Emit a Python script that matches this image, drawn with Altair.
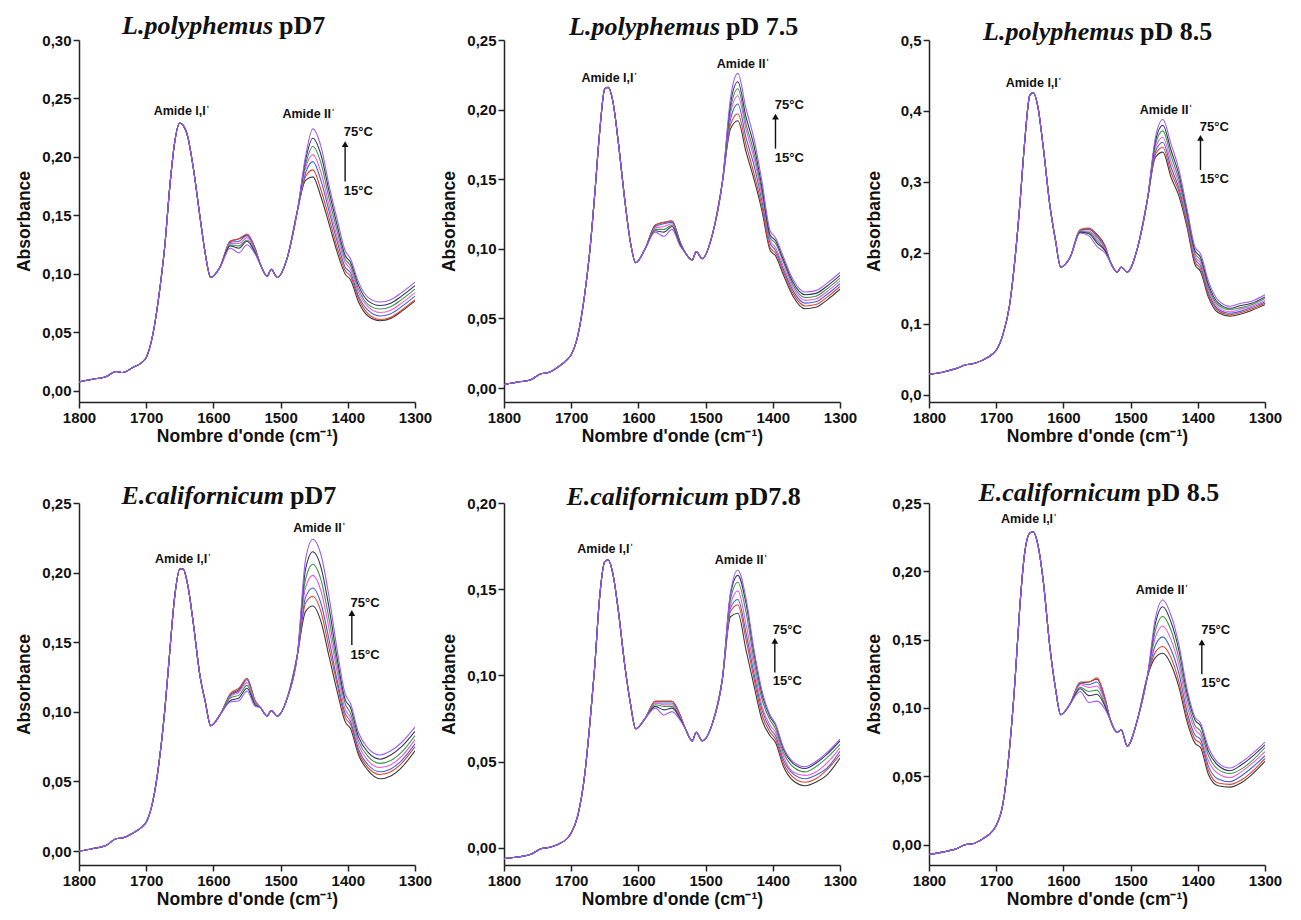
import altair as alt
import pandas as pd

# ---------------- data ----------------
TEMPS = [15, 25, 35, 45, 55, 65, 75]
TEMP_LABELS = ["15°C", "25°C", "35°C", "45°C", "55°C", "65°C", "75°C"]
TEMP_COLORS = ["#3a3a3a", "#e8412c", "#3d63e0", "#f05ad8", "#3c9a44", "#34345e", "#9d5cf5"]

# wavenumber grids (cm-1): segments where the curves coincide / differ
CX1 = [1800, 1780, 1760, 1745, 1735, 1720, 1705, 1700, 1690, 1680, 1672, 1665,
       1658, 1650, 1645, 1638, 1630, 1620, 1612, 1604, 1590]
VX1 = [1575, 1562, 1550, 1538]
CX2 = [1530, 1520, 1514, 1505, 1490, 1475]
VX2 = [1463, 1452, 1440, 1428, 1416, 1404, 1396, 1384, 1370, 1352, 1336, 1320, 1300]

# ---- L.polyphemus pD7 ----
P1_C1 = [0.0077, 0.010, 0.012, 0.0166, 0.0157, 0.020, 0.025, 0.0286, 0.0486, 0.086, 0.126, 0.174,
         0.211, 0.229, 0.227, 0.217, 0.191, 0.149, 0.117, 0.097, 0.106]
P1_MID = {
    15: [0.128, 0.130, 0.133, 0.122],
    25: [0.128, 0.130, 0.134, 0.122],
    35: [0.127, 0.128, 0.133, 0.121],
    45: [0.126, 0.126, 0.131, 0.120],
    55: [0.125, 0.124, 0.129, 0.119],
    65: [0.124, 0.122, 0.128, 0.118],
    75: [0.122, 0.118, 0.125, 0.117],
}
P1_C2 = [0.108, 0.098, 0.104, 0.097, 0.114, 0.154]
P1_A2 = {
    15: [0.180, 0.183, 0.166, 0.143, 0.119, 0.100, 0.095, 0.076, 0.064, 0.060, 0.062, 0.068, 0.077],
    25: [0.183, 0.189, 0.172, 0.148, 0.123, 0.103, 0.098, 0.079, 0.066, 0.061, 0.063, 0.069, 0.078],
    35: [0.186, 0.196, 0.180, 0.154, 0.128, 0.106, 0.101, 0.081, 0.069, 0.064, 0.066, 0.072, 0.081],
    45: [0.190, 0.202, 0.187, 0.159, 0.132, 0.110, 0.104, 0.084, 0.072, 0.067, 0.069, 0.075, 0.084],
    55: [0.193, 0.209, 0.195, 0.165, 0.137, 0.113, 0.107, 0.087, 0.074, 0.070, 0.072, 0.078, 0.087],
    65: [0.197, 0.216, 0.202, 0.171, 0.142, 0.116, 0.110, 0.090, 0.077, 0.073, 0.075, 0.081, 0.090],
    75: [0.200, 0.224, 0.209, 0.176, 0.147, 0.120, 0.113, 0.093, 0.080, 0.076, 0.078, 0.084, 0.093],
}

# ---- L.polyphemus pD 7.5 ----
P2_C1 = [0.0026, 0.0043, 0.006, 0.0103, 0.011, 0.015, 0.021, 0.024, 0.038, 0.067, 0.100, 0.139,
         0.182, 0.215, 0.216, 0.206, 0.177, 0.134, 0.105, 0.090, 0.100]
P2_MID = {
    15: [0.117, 0.119, 0.120, 0.105],
    25: [0.117, 0.119, 0.120, 0.105],
    35: [0.116, 0.118, 0.119, 0.105],
    45: [0.115, 0.116, 0.118, 0.104],
    55: [0.114, 0.114, 0.117, 0.104],
    65: [0.113, 0.112, 0.116, 0.103],
    75: [0.112, 0.109, 0.114, 0.102],
}
P2_C2 = [0.097, 0.092, 0.098, 0.093, 0.110, 0.148]
P2_A2 = {
    15: [0.186, 0.192, 0.170, 0.150, 0.127, 0.099, 0.095, 0.081, 0.066, 0.057, 0.058, 0.063, 0.071],
    25: [0.189, 0.197, 0.175, 0.154, 0.130, 0.101, 0.097, 0.083, 0.068, 0.059, 0.060, 0.065, 0.073],
    35: [0.193, 0.204, 0.180, 0.160, 0.134, 0.104, 0.099, 0.085, 0.070, 0.061, 0.062, 0.067, 0.075],
    45: [0.197, 0.210, 0.186, 0.165, 0.138, 0.106, 0.101, 0.087, 0.072, 0.063, 0.064, 0.069, 0.077],
    55: [0.200, 0.215, 0.190, 0.169, 0.141, 0.108, 0.104, 0.090, 0.074, 0.065, 0.066, 0.071, 0.079],
    65: [0.204, 0.220, 0.195, 0.174, 0.144, 0.110, 0.106, 0.092, 0.076, 0.067, 0.068, 0.073, 0.081],
    75: [0.208, 0.226, 0.201, 0.179, 0.148, 0.113, 0.108, 0.094, 0.078, 0.069, 0.070, 0.075, 0.083],
}

# ---- L.polyphemus pD 8.5 ----
P3_C1 = [0.029, 0.032, 0.037, 0.0425, 0.044, 0.049, 0.058, 0.063, 0.085, 0.127, 0.192, 0.266,
         0.352, 0.422, 0.426, 0.406, 0.349, 0.266, 0.219, 0.180, 0.194]
P3_MID = {
    15: [0.232, 0.234, 0.226, 0.210],
    25: [0.233, 0.235, 0.225, 0.209],
    35: [0.232, 0.233, 0.223, 0.207],
    45: [0.231, 0.231, 0.220, 0.206],
    55: [0.230, 0.229, 0.217, 0.204],
    65: [0.229, 0.227, 0.214, 0.203],
    75: [0.228, 0.224, 0.209, 0.200],
}
P3_C2 = [0.187, 0.173, 0.180, 0.173, 0.206, 0.275]
P3_A2 = {
    15: [0.335, 0.342, 0.307, 0.280, 0.236, 0.183, 0.174, 0.137, 0.116, 0.111, 0.114, 0.119, 0.127],
    25: [0.339, 0.349, 0.314, 0.286, 0.240, 0.187, 0.178, 0.140, 0.119, 0.113, 0.116, 0.121, 0.129],
    35: [0.343, 0.356, 0.321, 0.291, 0.244, 0.191, 0.182, 0.144, 0.121, 0.115, 0.118, 0.123, 0.131],
    45: [0.348, 0.363, 0.329, 0.297, 0.248, 0.195, 0.186, 0.148, 0.124, 0.117, 0.121, 0.125, 0.133],
    55: [0.353, 0.372, 0.337, 0.303, 0.252, 0.199, 0.190, 0.151, 0.127, 0.120, 0.123, 0.127, 0.136],
    65: [0.358, 0.380, 0.345, 0.310, 0.257, 0.203, 0.194, 0.155, 0.130, 0.122, 0.126, 0.129, 0.138],
    75: [0.363, 0.388, 0.354, 0.317, 0.262, 0.208, 0.199, 0.160, 0.134, 0.125, 0.129, 0.132, 0.141],
}

# ---- E.californicum pD7 ----
P4_C1 = [0.000, 0.0017, 0.004, 0.0088, 0.0095, 0.0128, 0.018, 0.0207, 0.036, 0.067, 0.103, 0.143,
         0.181, 0.2025, 0.2025, 0.1906, 0.164, 0.126, 0.107, 0.090, 0.098]
P4_MID = {
    15: [0.112, 0.116, 0.124, 0.108],
    25: [0.113, 0.117, 0.124, 0.108],
    35: [0.112, 0.115, 0.123, 0.107],
    45: [0.111, 0.114, 0.121, 0.107],
    55: [0.110, 0.112, 0.119, 0.106],
    65: [0.108, 0.110, 0.117, 0.105],
    75: [0.107, 0.108, 0.115, 0.104],
}
P4_C2 = [0.103, 0.097, 0.101, 0.097, 0.110, 0.141]
P4_A2 = {
    15: [0.172, 0.176, 0.165, 0.140, 0.115, 0.093, 0.088, 0.069, 0.058, 0.052, 0.054, 0.060, 0.072],
    25: [0.178, 0.183, 0.172, 0.146, 0.120, 0.096, 0.091, 0.071, 0.060, 0.055, 0.057, 0.063, 0.075],
    35: [0.182, 0.189, 0.178, 0.152, 0.123, 0.099, 0.093, 0.073, 0.062, 0.057, 0.059, 0.065, 0.077],
    45: [0.189, 0.198, 0.187, 0.160, 0.129, 0.102, 0.096, 0.076, 0.065, 0.060, 0.062, 0.068, 0.080],
    55: [0.195, 0.206, 0.195, 0.167, 0.134, 0.106, 0.099, 0.079, 0.068, 0.063, 0.065, 0.071, 0.083],
    65: [0.202, 0.215, 0.204, 0.175, 0.139, 0.109, 0.103, 0.082, 0.071, 0.066, 0.069, 0.075, 0.086],
    75: [0.209, 0.224, 0.213, 0.183, 0.145, 0.113, 0.106, 0.085, 0.074, 0.069, 0.072, 0.078, 0.089],
}

# ---- E.californicum pD7.8 ----
P5_C1 = [-0.0063, -0.0054, -0.0038, -0.0006, 0.000, 0.0019, 0.0058, 0.0086, 0.019, 0.042, 0.073, 0.105,
         0.144, 0.166, 0.167, 0.159, 0.138, 0.105, 0.084, 0.069, 0.075]
P5_MID = {
    15: [0.085, 0.085, 0.085, 0.077],
    25: [0.085, 0.085, 0.085, 0.077],
    35: [0.084, 0.084, 0.084, 0.076],
    45: [0.084, 0.083, 0.083, 0.076],
    55: [0.083, 0.082, 0.082, 0.075],
    65: [0.082, 0.080, 0.081, 0.075],
    75: [0.081, 0.077, 0.079, 0.074],
}
P5_C2 = [0.069, 0.062, 0.067, 0.062, 0.072, 0.098]
P5_A2 = {
    15: [0.134, 0.136, 0.115, 0.094, 0.074, 0.065, 0.061, 0.047, 0.039, 0.036, 0.038, 0.042, 0.052],
    25: [0.137, 0.141, 0.121, 0.098, 0.077, 0.067, 0.063, 0.049, 0.041, 0.038, 0.040, 0.045, 0.054],
    35: [0.139, 0.144, 0.125, 0.101, 0.080, 0.069, 0.065, 0.051, 0.043, 0.040, 0.042, 0.046, 0.056],
    45: [0.141, 0.149, 0.130, 0.105, 0.082, 0.071, 0.067, 0.053, 0.044, 0.042, 0.044, 0.049, 0.058],
    55: [0.144, 0.154, 0.137, 0.109, 0.086, 0.074, 0.069, 0.055, 0.047, 0.044, 0.047, 0.052, 0.060],
    65: [0.147, 0.158, 0.142, 0.113, 0.089, 0.076, 0.071, 0.057, 0.049, 0.046, 0.049, 0.054, 0.062],
    75: [0.148, 0.161, 0.145, 0.115, 0.091, 0.077, 0.072, 0.058, 0.050, 0.047, 0.050, 0.055, 0.063],
}

# ---- E.californicum pD 8.5 ----
P6_C1 = [-0.0073, -0.0056, -0.0032, 0.000, 0.0005, 0.0041, 0.0102, 0.0139, 0.0297, 0.071, 0.120, 0.173,
         0.212, 0.228, 0.229, 0.2196, 0.193, 0.144, 0.115, 0.095, 0.103]
P6_MID = {
    15: [0.118, 0.119, 0.121, 0.107],
    25: [0.119, 0.119, 0.122, 0.107],
    35: [0.118, 0.117, 0.119, 0.105],
    45: [0.117, 0.115, 0.116, 0.104],
    55: [0.115, 0.112, 0.113, 0.102],
    65: [0.114, 0.109, 0.110, 0.101],
    75: [0.112, 0.104, 0.105, 0.099],
}
P6_C2 = [0.091, 0.082, 0.084, 0.072, 0.091, 0.123]
P6_A2 = {
    15: [0.137, 0.140, 0.132, 0.115, 0.090, 0.074, 0.071, 0.051, 0.043, 0.042, 0.045, 0.051, 0.061],
    25: [0.141, 0.145, 0.137, 0.119, 0.093, 0.077, 0.074, 0.054, 0.045, 0.044, 0.047, 0.053, 0.063],
    35: [0.146, 0.152, 0.143, 0.125, 0.097, 0.080, 0.077, 0.057, 0.048, 0.046, 0.050, 0.056, 0.065],
    45: [0.152, 0.160, 0.150, 0.131, 0.102, 0.084, 0.080, 0.061, 0.052, 0.049, 0.053, 0.059, 0.068],
    55: [0.157, 0.167, 0.157, 0.136, 0.107, 0.087, 0.083, 0.065, 0.055, 0.052, 0.055, 0.061, 0.071],
    65: [0.162, 0.174, 0.163, 0.142, 0.111, 0.091, 0.087, 0.068, 0.058, 0.054, 0.058, 0.064, 0.073],
    75: [0.166, 0.179, 0.168, 0.146, 0.114, 0.093, 0.089, 0.071, 0.060, 0.056, 0.060, 0.066, 0.075],
}

SPECIES = ["L.polyphemus", "L.polyphemus", "L.polyphemus",
           "E.californicum", "E.californicum", "E.californicum"]
PD_LABELS = ["pD7", "pD 7.5", "pD 8.5", "pD7", "pD7.8", "pD 8.5"]
X_TICKS = [1800, 1700, 1600, 1500, 1400, 1300]

# ---------------- layout / style settings ----------------
W, H = 336, 362
PANELS = [
    dict(c1=P1_C1, mid=P1_MID, c2=P1_C2, a2=P1_A2, ydom=[-0.0095, 0.30],
         yt=[0, 0.05, 0.10, 0.15, 0.20, 0.25, 0.30], fmt=".2f",
         am1=(1647, 0.239), am2=(1458, 0.237), t75=(1406, 0.221), t15=(1406, 0.171),
         arr=(1404, 0.179, 0.211), split=194, ty=-6),
    dict(c1=P2_C1, mid=P2_MID, c2=P2_C2, a2=P2_A2, ydom=[-0.01, 0.25],
         yt=[0, 0.05, 0.10, 0.15, 0.20, 0.25], fmt=".2f",
         am1=(1643, 0.223), am2=(1444, 0.233), t75=(1397, 0.203), t15=(1397, 0.165),
         arr=(1396, 0.172, 0.195), split=216, ty=-5),
    dict(c1=P3_C1, mid=P3_MID, c2=P3_C2, a2=P3_A2, ydom=[-0.01, 0.5],
         yt=[0, 0.1, 0.2, 0.3, 0.4, 0.5], fmt=".1f",
         am1=(1644, 0.439), am2=(1447, 0.402), t75=(1397, 0.377), t15=(1397, 0.304),
         arr=(1396, 0.317, 0.362), split=205, ty=0),
    dict(c1=P4_C1, mid=P4_MID, c2=P4_C2, a2=P4_A2, ydom=[-0.01, 0.25],
         yt=[0, 0.05, 0.10, 0.15, 0.20, 0.25], fmt=".2f",
         am1=(1645, 0.210), am2=(1442, 0.232), t75=(1396, 0.178), t15=(1396, 0.141),
         arr=(1394, 0.148, 0.171), split=205, ty=1),
    dict(c1=P5_C1, mid=P5_MID, c2=P5_C2, a2=P5_A2, ydom=[-0.01, 0.20],
         yt=[0, 0.05, 0.10, 0.15, 0.20], fmt=".2f",
         am1=(1649, 0.1735), am2=(1447, 0.167), t75=(1400, 0.1266), t15=(1400, 0.0965),
         arr=(1397, 0.1016, 0.120), split=225, ty=2),
    dict(c1=P6_C1, mid=P6_MID, c2=P6_C2, a2=P6_A2, ydom=[-0.015, 0.25],
         yt=[0, 0.05, 0.10, 0.15, 0.20, 0.25], fmt=".2f",
         am1=(1651, 0.238), am2=(1453, 0.186), t75=(1395, 0.157), t15=(1395, 0.1185),
         arr=(1394, 0.1246, 0.148), split=212, ty=-2),
]

SANS = "Liberation Sans"
SERIF = "Liberation Serif"


def make_panel(i):
    p = PANELS[i]
    xs = CX1 + VX1 + CX2 + VX2
    rows = []
    for t, lab in zip(TEMPS, TEMP_LABELS):
        ys = p["c1"] + p["mid"][t] + p["c2"] + p["a2"][t]
        for x, y in zip(xs, ys):
            rows.append({"w": x, "a": y, "T": lab})
    df = pd.DataFrame(rows)

    xscale = alt.Scale(domain=[1800, 1300], nice=False, zero=False)
    yscale = alt.Scale(domain=p["ydom"], nice=False, zero=False)
    xaxis = alt.Axis(values=X_TICKS, format="d", title="Nombre d'onde (cm⁻¹)",
                     labelFlush=False, labelOverlap=False)
    yaxis = alt.Axis(values=p["yt"], title="Absorbance", labelFlush=False, labelOverlap=False,
                     labelExpr=f"replace(format(datum.value, '{p['fmt']}'), '.', ',')")

    lines = alt.Chart(df).mark_line(strokeWidth=1.1, interpolate="monotone", clip=True).encode(
        x=alt.X("w:Q", scale=xscale, axis=xaxis),
        y=alt.Y("a:Q", scale=yscale, axis=yaxis),
        color=alt.Color("T:N", scale=alt.Scale(domain=TEMP_LABELS, range=TEMP_COLORS), legend=None),
        order=alt.Order("w:Q", sort="descending"),
    )

    amide = pd.DataFrame({"w": [p["am1"][0], p["am2"][0]], "a": [p["am1"][1], p["am2"][1]],
                          "label": ["Amide I,I\u02C8", "Amide II\u02C8"]})
    amide_txt = alt.Chart(amide).mark_text(font=SANS, fontSize=12.5, fontWeight="bold",
                                           color="#111", align="center", baseline="middle").encode(
        x=alt.X("w:Q", scale=xscale), y=alt.Y("a:Q", scale=yscale), text="label:N")

    temps = pd.DataFrame({"w": [p["t75"][0], p["t15"][0]], "a": [p["t75"][1], p["t15"][1]],
                          "label": ["75°C", "15°C"]})
    temp_txt = alt.Chart(temps).mark_text(font=SANS, fontSize=13, fontWeight="bold",
                                          color="#111", align="left", baseline="middle").encode(
        x=alt.X("w:Q", scale=xscale), y=alt.Y("a:Q", scale=yscale), text="label:N")

    arr = pd.DataFrame({"w": [p["arr"][0]], "a": [p["arr"][1]], "a2": [p["arr"][2]]})
    rule = alt.Chart(arr).mark_rule(strokeWidth=1.4, color="#111").encode(
        x=alt.X("w:Q", scale=xscale), y=alt.Y("a:Q", scale=yscale), y2="a2:Q")
    head = alt.Chart(arr).mark_point(shape="triangle-up", filled=True, size=45, color="#111",
                                     opacity=1).encode(
        x=alt.X("w:Q", scale=xscale), y=alt.Y("a2:Q", scale=yscale))

    one = pd.DataFrame({"k": [0]})
    t_species = alt.Chart(one).mark_text(text=SPECIES[i], font=SERIF, fontSize=26, fontWeight="bold",
                                         fontStyle="italic", color="#111", align="right",
                                         baseline="alphabetic").encode(
        x=alt.value(p["split"]), y=alt.value(p["ty"]))
    t_pd = alt.Chart(one).mark_text(text=PD_LABELS[i], font=SERIF, fontSize=26, fontWeight="bold",
                                    color="#111", align="left", baseline="alphabetic").encode(
        x=alt.value(p["split"] + 6), y=alt.value(p["ty"]))

    return alt.layer(lines, amide_txt, temp_txt, rule, head, t_species, t_pd).properties(
        width=W, height=H)


top = alt.hconcat(make_panel(0), make_panel(1), make_panel(2), spacing=8)
bottom = alt.hconcat(make_panel(3), make_panel(4), make_panel(5), spacing=8)

chart = alt.vconcat(top, bottom, spacing=35).properties(
    padding={"left": 7, "top": 5, "right": 5, "bottom": 5},
    background="white",
).configure_view(stroke=None).configure_axis(
    grid=False,
    domainColor="#222", domainWidth=1.5,
    tickColor="#222", tickWidth=1.5, tickSize=6,
    labelFont=SANS, labelFontSize=15, labelFontWeight="bold", labelColor="#111", labelPadding=2,
    titleFont=SANS, titleFontSize=17.5, titleFontWeight="bold", titleColor="#111",
).configure_axisY(
    minExtent=40, maxExtent=40, titlePadding=6,
).configure_axisX(
    titlePadding=2,
)

chart.save("out.html", embed_options={"renderer": "svg", "actions": False})
